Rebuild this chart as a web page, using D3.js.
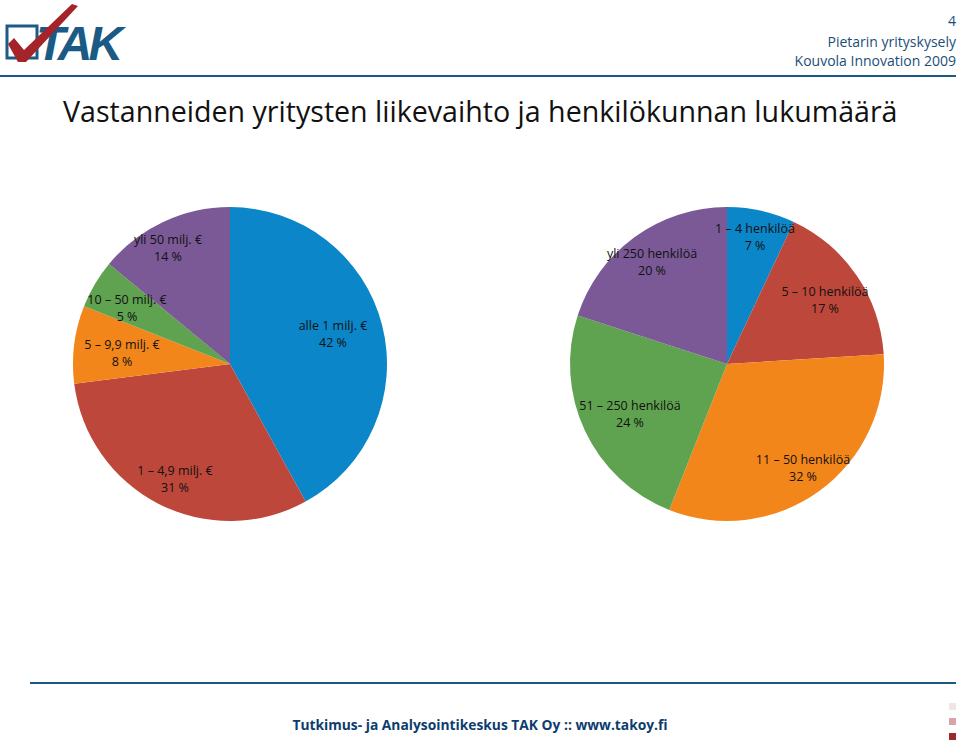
<!DOCTYPE html>
<html><head><meta charset="utf-8">
<script src="https://cdn.jsdelivr.net/npm/d3@7"></script>
<style>body{margin:0;background:#fff}svg{font-family:"Open Sans",Lato,sans-serif}</style>
</head><body><svg id="c" width="960" height="742"></svg>
<script>
const turnoverLabels = ["alle 1 milj. €", "1 – 4,9 milj. €", "5 – 9,9 milj. €", "10 – 50 milj. €", "yli 50 milj. €"];
const turnoverValues = [42, 31, 8, 5, 14];
const staffLabels = ["1 – 4 henkilöä", "5 – 10 henkilöä", "11 – 50 henkilöä", "51 – 250 henkilöä", "yli 250 henkilöä"];
const staffValues = [7, 17, 32, 24, 20];
const colors = ["#0b86c8", "#bd473a", "#f3861a", "#5fa24f", "#7a5996"];

const svg = d3.select("#c");

// header
const logo = svg.append("g");
logo.append("rect").attr("x", 7).attr("y", 26).attr("width", 30).attr("height", 32)
  .attr("fill", "none").attr("stroke", "#1d5b84").attr("stroke-width", 3);
logo.append("text").attr("x", 36).attr("y", 60).attr("font-family", "Liberation Sans, Arial")
  .attr("font-weight", "bold").attr("font-size", 48).attr("font-style", "italic")
  .attr("fill", "#1b5a84").attr("letter-spacing", -4).text("TAK");
logo.append("path").attr("d", "M8,44 L18,62 L26,62 L78,6 L72,4 L24,50 L14,38 Z").attr("fill", "#a4242a");
svg.append("line").attr("x1", 0).attr("x2", 956).attr("y1", 76).attr("y2", 76)
  .attr("stroke", "#1b5a84").attr("stroke-width", 2);
svg.append("text").attr("x", 956).attr("y", 26).attr("text-anchor", "end").attr("font-size", 14).attr("fill", "#1b4e7a").text("4");
svg.append("text").attr("x", 956).attr("y", 47).attr("text-anchor", "end").attr("font-size", 14).attr("fill", "#1b4e7a").text("Pietarin yrityskysely");
svg.append("text").attr("x", 956).attr("y", 66).attr("text-anchor", "end").attr("font-size", 14).attr("fill", "#1b4e7a").text("Kouvola Innovation 2009");
svg.append("text").attr("x", 63).attr("y", 122).attr("font-size", 28.6).attr("fill", "#111")
  .text("Vastanneiden yritysten liikevaihto ja henkilökunnan lukumäärä");

// footer
svg.append("line").attr("x1", 30).attr("x2", 956).attr("y1", 683).attr("y2", 683)
  .attr("stroke", "#1b5a84").attr("stroke-width", 2);
svg.append("text").attr("x", 480).attr("y", 730).attr("text-anchor", "middle").attr("font-size", 13.8)
  .attr("font-weight", "bold").attr("fill", "#0d3d6e").text("Tutkimus- ja Analysointikeskus TAK Oy :: www.takoy.fi");
["#f1e4e5", "#d9a4a8", "#9b2a2e"].forEach((c, i) =>
  svg.append("rect").attr("x", 949).attr("y", 703 + i * 15).attr("width", 7).attr("height", 7).attr("fill", c));

const pie = d3.pie().sort(null).value(d => d);
const arc = d3.arc().innerRadius(0).outerRadius(157);

function drawPie(cx, cy, values, labels, labelPos) {
  const g = svg.append("g").attr("transform", `translate(${cx},${cy})`);
  g.selectAll("path").data(pie(values)).join("path")
    .attr("d", arc).attr("fill", (d, i) => colors[i]);
  labels.forEach((l, i) => {
    const t = svg.append("text").attr("text-anchor", "middle").attr("font-size", 12.5).attr("fill", "#111");
    t.append("tspan").attr("x", labelPos[i][0]).attr("y", labelPos[i][1]).text(l);
    t.append("tspan").attr("x", labelPos[i][0]).attr("y", labelPos[i][1] + 17).text(values[i] + " %");
  });
}

drawPie(230, 364, turnoverValues, turnoverLabels,
  [[333, 330], [175, 475], [122, 349], [127, 304], [168, 244]]);
drawPie(727, 364, staffValues, staffLabels,
  [[755, 233], [825, 296], [803, 464], [630, 410], [652, 258]]);
</script></body></html>
